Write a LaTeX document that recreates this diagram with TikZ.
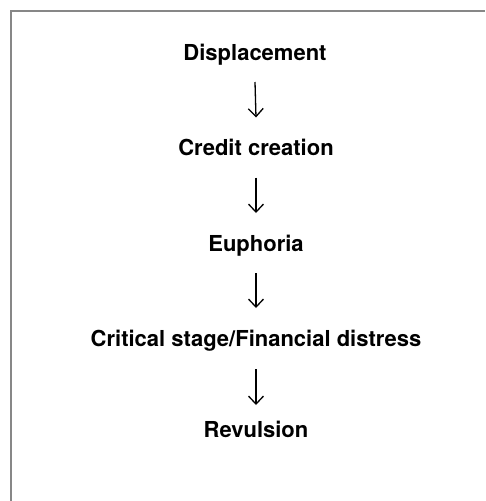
\documentclass[tikz,border=0pt]{standalone}
\usepackage{fontspec}
\setmainfont{TeX Gyre Heros}
\usetikzlibrary{arrows.meta}
\begin{document}
\begin{tikzpicture}[x=1pt,y=-1pt,
  stage/.style={font=\bfseries\fontsize{22}{26}\selectfont, inner sep=0pt, anchor=base},
  arr/.style={line width=1.3pt, -{Straight Barb[length=8pt,width=15pt,line width=1.3pt]}},
  frame/.style={draw=black!47, line width=2pt}]
\useasboundingbox (0,0) rectangle (485,501);
\fill[white] (0,0) rectangle (485,501);
\draw[frame] (11,501) -- (11,11) -- (485,11);
\node[stage] (d) at (255,60) {Displacement};
\node[stage] (c) at (256,155.5) {Credit creation};
\node[stage] (e) at (256,251) {Euphoria};
\node[stage] (s) at (256,346) {Critical stage/Financial distress};
\node[stage] (r) at (256,437) {Revulsion};
\draw[arr] ([yshift=-22pt]d.base) -- ([yshift=38pt]c.base);
\draw[arr] ([yshift=-22pt]c.base) -- ([yshift=38pt]e.base);
\draw[arr] ([yshift=-22pt]e.base) -- ([yshift=38pt]s.base);
\draw[arr] ([yshift=-23pt]s.base) -- ([yshift=32pt]r.base);
\end{tikzpicture}
\end{document}
